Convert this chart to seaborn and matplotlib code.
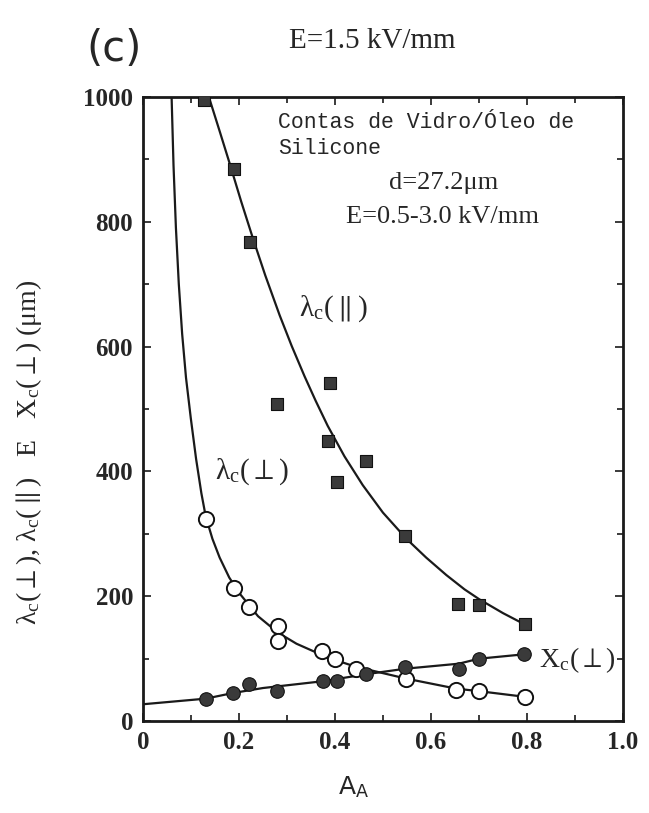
import numpy as np
import pandas as pd
import matplotlib
matplotlib.use("Agg")
import matplotlib.pyplot as plt
import seaborn as sns
from matplotlib.ticker import MultipleLocator

# ---- data ----
# lambda_c(parallel): filled squares
lpar_x = [0.128, 0.189, 0.224, 0.280, 0.385, 0.389, 0.404, 0.464, 0.547, 0.656, 0.701, 0.795]
lpar_y = [995, 885, 768, 508, 449, 542, 383, 416, 296, 187, 186, 155]
# fitted curve for lambda_c(parallel)
lpar_fit_x = [0.1375, 0.160, 0.181, 0.205, 0.229, 0.255, 0.285, 0.310, 0.337, 0.360, 0.385,
              0.420, 0.458, 0.500, 0.549, 0.590, 0.632, 0.670, 0.701, 0.750, 0.795]
lpar_fit_y = [1000, 945, 893, 832, 774, 714, 650, 601, 552, 513, 473,
              424, 378, 334, 292, 262, 234, 211, 195, 173, 155]

# lambda_c(perp): open circles
lperp_x = [0.131, 0.189, 0.222, 0.281, 0.281, 0.374, 0.401, 0.443, 0.549, 0.653, 0.700, 0.795]
lperp_y = [324, 214, 182, 152, 129, 112, 99, 84, 68, 50, 48, 39]
# fitted curve for lambda_c(perp)
lperp_fit_x = [0.060, 0.064, 0.069, 0.075, 0.082, 0.090, 0.100, 0.111, 0.122, 0.131, 0.145,
               0.160, 0.180, 0.201, 0.240, 0.281, 0.320, 0.361, 0.400, 0.444, 0.549,
               0.653, 0.700, 0.795]
lperp_fit_y = [1000, 890, 790, 700, 620, 550, 485, 420, 365, 328, 292,
               262, 230, 205, 168, 142, 124, 110, 98, 87, 68,
               52, 48, 39]

# X_c(perp): filled circles
xc_x = [0.131, 0.1875, 0.222, 0.279, 0.376, 0.404, 0.464, 0.547, 0.658, 0.700, 0.794]
xc_y = [36, 45, 59, 48, 64, 64, 75, 86, 84, 100, 107]
# line through X_c(perp)
xc_fit_x = [0.0, 0.131, 0.1875, 0.25, 0.376, 0.464, 0.547, 0.658, 0.700, 0.794]
xc_fit_y = [27, 36, 45, 53, 64, 75, 84, 92, 100, 107]

x_ticks = [0, 0.2, 0.4, 0.6, 0.8, 1.0]
x_tick_labels = ["0", "0.2", "0.4", "0.6", "0.8", "1.0"]
y_ticks = [0, 200, 400, 600, 800, 1000]
y_tick_labels = ["0", "200", "400", "600", "800", "1000"]

# ---- plotting ----
sns.set_theme(style="ticks")
plt.rcParams["font.family"] = ["Liberation Serif", "DejaVu Sans"]
plt.rcParams["mathtext.fontset"] = "stix"

fig = plt.figure(figsize=(6.49, 8.13), dpi=100)
ax = fig.add_axes([0.220, 0.113, 0.740, 0.768])

dk = "#1a1a1a"
sns.lineplot(x=lpar_fit_x, y=lpar_fit_y, ax=ax, sort=False, color=dk, lw=1.6, estimator=None)
sns.lineplot(x=lperp_fit_x, y=lperp_fit_y, ax=ax, sort=False, color=dk, lw=1.6, estimator=None)
sns.lineplot(x=xc_fit_x, y=xc_fit_y, ax=ax, sort=False, color=dk, lw=1.6, estimator=None)

sns.scatterplot(x=lpar_x, y=lpar_y, ax=ax, marker="s", s=70, color="#3a3a3a",
                edgecolor="#111111", linewidth=0.8, zorder=5)
sns.scatterplot(x=lperp_x, y=lperp_y, ax=ax, marker="o", s=120, color="white",
                edgecolor="#111111", linewidth=1.4, zorder=6)
sns.scatterplot(x=xc_x, y=xc_y, ax=ax, marker="o", s=95, color="#3a3a3a",
                edgecolor="#111111", linewidth=0.8, zorder=7)

ax.set_xlim(0, 1.0)
ax.set_ylim(0, 1000)
ax.set_xticks(x_ticks)
ax.set_xticklabels(x_tick_labels, fontsize=18, fontweight="bold")
ax.set_yticks(y_ticks)
ax.set_yticklabels(y_tick_labels, fontsize=18, fontweight="bold")
ax.xaxis.set_minor_locator(MultipleLocator(0.1))
ax.yaxis.set_minor_locator(MultipleLocator(100))
ax.tick_params(which="both", direction="in", top=True, right=True, width=1.2, color=dk)
ax.tick_params(which="major", length=6, pad=7)
ax.tick_params(which="minor", length=4)
for sp in ax.spines.values():
    sp.set_linewidth(2.0)
    sp.set_color(dk)

sub_c = r"$_\mathregular{c}$"
perp = r"$\perp$"
par = r"$\parallel$"
ax.set_xlabel(r"A$_\mathregular{A}$", fontsize=18, family=["DejaVu Sans"])
ax.xaxis.set_label_coords(0.44, -0.085)
ax.set_ylabel("λ" + sub_c + "(" + perp + "), λ" + sub_c + "(" + par + ")   E   X"
              + sub_c + "(" + perp + ") (μm)", fontsize=20)
ax.yaxis.set_label_coords(-0.205, 0.43)

# annotations
ax.text(0.282, 0.975, "Contas de Vidro/Óleo de\nSilicone", transform=ax.transAxes,
        family=["Liberation Mono"], fontsize=15.5, va="top", ha="left", linespacing=1.3)
ax.text(0.512, 0.862, "d=27.2μm", transform=ax.transAxes, fontsize=19,
        va="center", ha="left")
ax.text(0.423, 0.808, "E=0.5-3.0 kV/mm", transform=ax.transAxes, fontsize=19,
        va="center", ha="left")
ax.text(0.325, 0.660, "λ" + sub_c + "(" + par + ")", transform=ax.transAxes, fontsize=21,
        va="center", ha="left")
ax.text(0.150, 0.400, "λ" + sub_c + "(" + perp + ")", transform=ax.transAxes, fontsize=21,
        va="center", ha="left")
ax.text(0.825, 0.098, "X" + sub_c + "(" + perp + ")", transform=ax.transAxes, fontsize=20,
        va="center", ha="left")

fig.text(0.133, 0.940, "(c)", fontsize=30, family=["DejaVu Sans"], va="center", ha="left")
fig.text(0.445, 0.950, "E=1.5 kV/mm", fontsize=21, va="center", ha="left")

fig.savefig("out.png", dpi=100)
